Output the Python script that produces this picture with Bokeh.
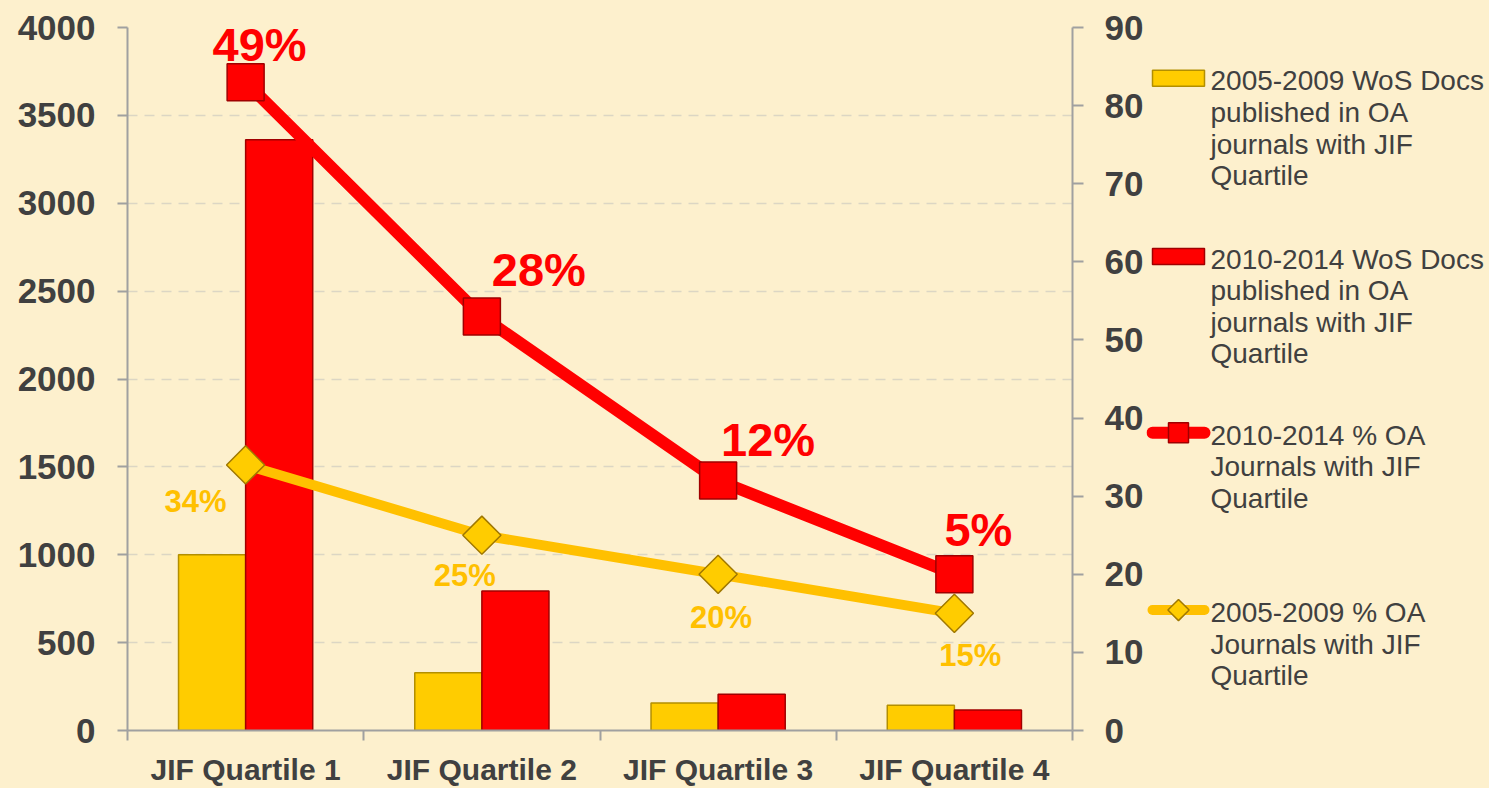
import math
from bokeh.plotting import figure
from bokeh.layouts import row
from bokeh.models import Range1d, LinearAxis, FixedTicker, ColumnDataSource
from bokeh.core.properties import value
from bokeh.embed import file_html
from bokeh.resources import INLINE

# ---------------- data ----------------
categories = ["JIF Quartile 1", "JIF Quartile 2", "JIF Quartile 3", "JIF Quartile 4"]
docs_2005_2009 = [1000, 328, 156, 144]
docs_2010_2014 = [3361, 794, 206, 117]
pct_2010_2014 = [83, 53, 32, 20]
pct_2005_2009 = [34, 25, 20, 15]
labels_2010_2014 = ["49%", "28%", "12%", "5%"]
labels_2005_2009 = ["34%", "25%", "20%", "15%"]
left_ticks = [0, 500, 1000, 1500, 2000, 2500, 3000, 3500, 4000]
right_ticks = [0, 10, 20, 30, 40, 50, 60, 70, 80, 90]
series_names = [
    "2005-2009 WoS Docs\npublished in OA\njournals with JIF\nQuartile",
    "2010-2014 WoS Docs\npublished in OA\njournals with JIF\nQuartile",
    "2010-2014 % OA\nJournals with JIF\nQuartile",
    "2005-2009 % OA\nJournals with JIF\nQuartile",
]

# label placement (screen px offsets, style only)
red_dx = [14, 57, 50, 24]
red_dy = [-38, -47, -41, -45]
yel_dx = [-50, -17, 3, 16]
yel_dy = [37, 40, 43, 42]

# ---------------- styles ----------------
BG = "#FDF0CD"
YEL = "#FFCC00"
YEL_EDGE = "#B38F00"
YEL_LINE = "#FFC000"
RED = "#FF0000"
RED_EDGE = "#A00000"
TXT = "#404040"
AX = "#A0A0A0"
FONT = "Liberation Sans"

TOTAL_W, H = 1489, 788
MAIN_W = 1146
LEG_W = TOTAL_W - MAIN_W
TOP, BOTTOM = 27, 55

centers = [i + 0.5 for i in range(len(categories))]
bar_w = 0.284
off = 0.142

src = ColumnDataSource(dict(
    xc=centers,
    xy=[c - off for c in centers],
    xr=[c + off for c in centers],
    d05=docs_2005_2009, d10=docs_2010_2014,
    p10=pct_2010_2014, p05=pct_2005_2009,
    l10=labels_2010_2014, l05=labels_2005_2009,
    rdx=red_dx, rdy=red_dy, ydx=yel_dx, ydy=yel_dy,
))

p = figure(width=MAIN_W, height=H, output_backend="svg", toolbar_location=None,
           x_range=Range1d(0, len(categories)), y_range=Range1d(0, 4000),
           min_border_left=127, min_border_right=MAIN_W - 1073, min_border_top=TOP,
           min_border_bottom=BOTTOM)
p.background_fill_color = BG
p.border_fill_color = BG
p.outline_line_color = None
p.extra_y_ranges = {"pct": Range1d(0, 90)}

# grid
p.xgrid.visible = False
p.ygrid.ticker = FixedTicker(ticks=left_ticks)
p.ygrid.grid_line_color = "#DCD6C4"
p.ygrid.grid_line_dash = "10 7"
p.ygrid.grid_line_width = 1.5

# left axis
ya = p.yaxis[0]
ya.ticker = FixedTicker(ticks=left_ticks, minor_ticks=[])
ya.axis_line_color = AX
ya.axis_line_width = 2
ya.major_tick_line_color = AX
ya.major_tick_line_width = 2
ya.major_tick_out = 10
ya.major_tick_in = 0
ya.minor_tick_line_color = None
ya.major_label_standoff = 22
ya.major_label_text_font = FONT
ya.major_label_text_font_style = "bold"
ya.major_label_text_font_size = "35px"
ya.major_label_text_color = TXT

# x axis
xa = p.xaxis[0]
xa.ticker = FixedTicker(ticks=centers, minor_ticks=list(range(len(categories) + 1)))
xa.major_label_overrides = {c: n for c, n in zip(centers, categories)}
xa.axis_line_color = AX
xa.axis_line_width = 2
xa.major_tick_line_color = None
xa.minor_tick_line_color = AX
xa.minor_tick_line_width = 2
xa.minor_tick_out = 10
xa.minor_tick_in = 0
xa.major_label_standoff = 12
xa.major_label_text_font = FONT
xa.major_label_text_font_style = "bold"
xa.major_label_text_font_size = "30px"
xa.major_label_text_color = TXT

# right axis
ra = LinearAxis(y_range_name="pct", ticker=FixedTicker(ticks=right_ticks, minor_ticks=[]))
ra.axis_line_color = AX
ra.axis_line_width = 2
ra.major_tick_line_color = AX
ra.major_tick_line_width = 2
ra.major_tick_out = 11
ra.major_tick_in = 0
ra.minor_tick_line_color = None
ra.major_label_standoff = 21
ra.major_label_text_font = FONT
ra.major_label_text_font_style = "bold"
ra.major_label_text_font_size = "35px"
ra.major_label_text_color = TXT
p.add_layout(ra, "right")

# bars
p.vbar(x="xy", top="d05", width=bar_w, bottom=0, source=src,
       fill_color=YEL, line_color=YEL_EDGE, line_width=1.5)
p.vbar(x="xr", top="d10", width=bar_w, bottom=0, source=src,
       fill_color=RED, line_color=RED_EDGE, line_width=1.5)

# lines + markers
p.line(x="xc", y="p05", source=src, y_range_name="pct",
       line_color=YEL_LINE, line_width=10, line_cap="round", line_join="round")
p.line(x="xc", y="p10", source=src, y_range_name="pct",
       line_color=RED, line_width=12, line_cap="round", line_join="round")
p.scatter(x="xc", y="p05", source=src, y_range_name="pct", marker="square",
          angle=math.pi / 4, size=27, fill_color=YEL, line_color="#A07800",
          line_width=1.5)
p.scatter(x="xc", y="p10", source=src, y_range_name="pct", marker="square",
          size=37, fill_color=RED, line_color=RED_EDGE, line_width=1.5)

# data labels
p.text(x="xc", y="p10", text="l10", source=src, y_range_name="pct",
       x_offset="rdx", y_offset="rdy", text_align="center", text_baseline="middle",
       text_font=value(FONT), text_font_style="bold", text_font_size="47px",
       text_color=RED)
p.text(x="xc", y="p05", text="l05", source=src, y_range_name="pct",
       x_offset="ydx", y_offset="ydy", text_align="center", text_baseline="middle",
       text_font=value(FONT), text_font_style="bold", text_font_size="31px",
       text_color=YEL_LINE)

# ---------------- legend panel (pixel coordinates of the figure, y down) ----------------
lg = figure(width=LEG_W, height=H, output_backend="svg", toolbar_location=None,
            x_range=Range1d(0, LEG_W), y_range=Range1d(H - BOTTOM, TOP),
            x_axis_type=None, y_axis_type=None,
            min_border_left=0, min_border_right=0, min_border_top=TOP,
            min_border_bottom=BOTTOM)
lg.background_fill_color = BG
lg.border_fill_color = BG
lg.outline_line_color = None
lg.xgrid.visible = False
lg.ygrid.visible = False

sw_x0, sw_x1 = 6, 58          # swatch extent
txt_x = 64                    # text left
first_line_y = [78, 257, 434, 612]   # centre of each entry's first text line

# bar swatches
lg.quad(left=[sw_x0], right=[sw_x1], top=[first_line_y[0] - 8], bottom=[first_line_y[0] + 8],
        fill_color=YEL, line_color=YEL_EDGE, line_width=1.5)
lg.quad(left=[sw_x0], right=[sw_x1], top=[first_line_y[1] - 8], bottom=[first_line_y[1] + 8],
        fill_color=RED, line_color=RED_EDGE, line_width=1.5)
# line swatches
sx_mid = (sw_x0 + sw_x1) / 2
lg.line(x=[sw_x0, sw_x1], y=[first_line_y[2]] * 2, line_color=RED, line_width=12,
        line_cap="round")
lg.scatter(x=[sx_mid], y=[first_line_y[2]], marker="square", size=20,
           fill_color=RED, line_color=RED_EDGE, line_width=1.5)
lg.line(x=[sw_x0, sw_x1], y=[first_line_y[3]] * 2, line_color=YEL_LINE, line_width=10,
        line_cap="round")
lg.scatter(x=[sx_mid], y=[first_line_y[3]], marker="square", angle=math.pi / 4, size=15,
           fill_color=YEL, line_color="#A07800", line_width=1.5)

# legend texts
lg.text(x=[txt_x] * 4, y=[y - 13 for y in first_line_y], text=series_names,
        text_align="left", text_baseline="top", text_line_height=1.02,
        text_font=value(FONT), text_font_size="28px", text_color=TXT)

layout = row(p, lg, spacing=0, styles={"background-color": BG})
open("out.html", "w").write(file_html(layout, INLINE))
